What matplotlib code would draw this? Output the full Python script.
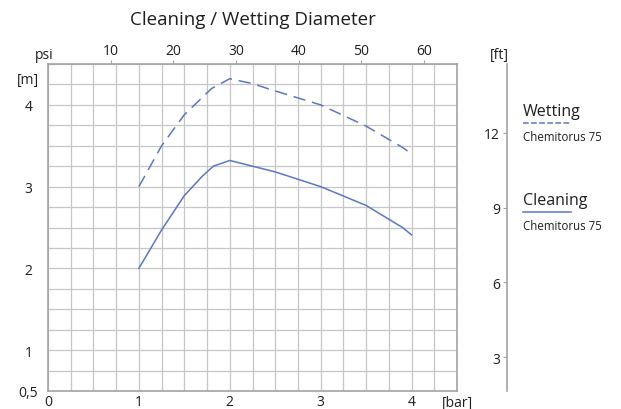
import numpy as np
import matplotlib
matplotlib.use("Agg")
import matplotlib.pyplot as plt
from matplotlib.lines import Line2D

plt.rcParams['font.family'] = ['Open Sans', 'DejaVu Sans']

# pressure [bar] vs diameter [m]
wetting_bar = [1.0, 1.25, 1.5, 1.8, 2.0, 2.25, 2.5, 3.0, 3.5, 3.9, 4.0]
wetting_m = [3.0, 3.5, 3.88, 4.2, 4.32, 4.26, 4.17, 4.0, 3.74, 3.48, 3.40]

cleaning_bar = [1.0, 1.25, 1.5, 1.7, 1.82, 2.0, 2.5, 3.0, 3.5, 3.9, 4.0]
cleaning_m = [2.0, 2.47, 2.89, 3.13, 3.25, 3.32, 3.18, 3.0, 2.77, 2.5, 2.41]

bar_ticks = [0, 1, 2, 3, 4]
bar_labels = ['0', '1', '2', '3', '4']
m_ticks = [0.5, 1, 2, 3, 4]
m_labels = ['0,5', '1', '2', '3', '4']
psi_ticks = [10, 20, 30, 40, 50, 60]
ft_ticks = [3, 6, 9, 12]

series_names = ['Wetting', 'Cleaning']
series_sub = 'Chemitorus 75'

BLUE = '#5a77c8'
FRAME = '#a3a3a3'
GRID = '#c6c6c6'
TEXT = '#1e1e1e'
DASH = (0, (8, 4.5))
PSI_PER_BAR = 14.5038
FT_PER_M = 3.28084

fig = plt.figure(figsize=(6.21, 4.10), dpi=100)
ax = fig.add_axes([48 / 621, 18 / 410, 409 / 621, 327 / 410])

ax.set_xlim(0, 4.5)
ax.set_ylim(0.5, 4.5)

# grid every 0.25 in both directions
ax.set_xticks(bar_ticks)
ax.set_xticklabels(bar_labels)
ax.set_xticks(np.arange(0, 4.51, 0.25), minor=True)
ax.set_yticks(m_ticks)
ax.set_yticklabels(m_labels)
ax.set_yticks(np.arange(0.5, 4.51, 0.25), minor=True)
ax.xaxis.remove_overlapping_locs = False
ax.yaxis.remove_overlapping_locs = False
ax.grid(which='minor', color=GRID, lw=0.9)
ax.set_axisbelow(True)
ax.tick_params(which='both', length=0, colors=TEXT, labelsize=10)
ax.tick_params(axis='y', pad=14)
ax.tick_params(axis='x', pad=2)
for lab in ax.get_yticklabels():
    lab.set_horizontalalignment('center')
for sp in ax.spines.values():
    sp.set_color(FRAME)
    sp.set_linewidth(1.2)

wet_line, = ax.plot(wetting_bar, wetting_m, color=BLUE, lw=1.1, linestyle=DASH)
cln_line, = ax.plot(cleaning_bar, cleaning_m, color=BLUE, lw=1.1)

# psi on top
psi_ax = ax.secondary_xaxis('top', functions=(lambda b: b * PSI_PER_BAR,
                                             lambda p: p / PSI_PER_BAR))
psi_ax.set_xticks(psi_ticks)
psi_ax.tick_params(length=3, color=FRAME, labelcolor=TEXT, labelsize=10, pad=1)
psi_ax.spines['top'].set_visible(False)

# ft axis, detached on the right
ft_ax = ax.secondary_yaxis(459 / 409, functions=(lambda m: m * FT_PER_M,
                                                 lambda f: f / FT_PER_M))
ft_ax.set_alignment('left')
ft_ax.set_yticks(ft_ticks)
ft_ax.tick_params(length=3, color=FRAME, labelcolor=TEXT, labelsize=10, pad=2)
ft_ax.spines['left'].set_color(FRAME)
ft_ax.spines['left'].set_linewidth(1.2)

# unit labels
ax.text(-0.049, 0.952, '[m]', transform=ax.transAxes, ha='center', va='center',
        fontsize=10, color=TEXT)
ax.text(1.002, -0.036, '[bar]', transform=ax.transAxes, ha='center', va='center',
        fontsize=10, color=TEXT)
ax.text(-0.010, 1.030, 'psi', transform=ax.transAxes, ha='center', va='center',
        fontsize=10, color=TEXT)
ax.text(1.103, 1.030, '[ft]', transform=ax.transAxes, ha='center', va='center',
        fontsize=10, color=TEXT)

ax.set_title('Cleaning / Wetting Diameter', y=1.138, pad=0, va='center',
             fontsize=13.5, color=TEXT)

# legend blocks: title, line sample, then subtitle
for line, name, ytop, ysub in [(wet_line, series_names[0], 0.88, 0.778),
                               (cln_line, series_names[1], 0.608, 0.5055)]:
    h = Line2D([], [], color=BLUE, lw=1.1, linestyle=line.get_linestyle())
    fig.legend([h], [''], title=name, loc='upper left',
               bbox_to_anchor=(1.161, ytop), bbox_transform=ax.transAxes,
               frameon=False, borderpad=0, borderaxespad=0, labelspacing=0,
               handlelength=4.3, handletextpad=0, title_fontsize=11.5,
               fontsize=8, alignment='left').get_title().set_color(TEXT)
    ax.text(1.161, ysub, series_sub, transform=ax.transAxes, ha='left',
            va='center', fontsize=8.3, color=TEXT)

fig.savefig('out.png', dpi=100)
